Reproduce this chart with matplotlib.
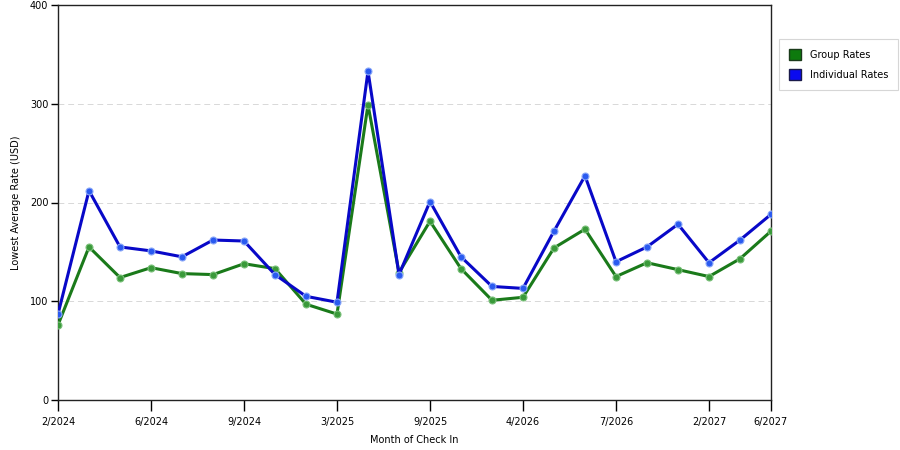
import numpy as np
import matplotlib
matplotlib.use("Agg")
import matplotlib.pyplot as plt
from matplotlib.patches import Patch

# month labels shown on the axis (blank = unlabeled point)
months = ["2/2024", "", "", "6/2024", "", "", "9/2024", "", "", "3/2025", "", "",
          "9/2025", "", "", "4/2026", "", "", "7/2026", "", "", "2/2027", "", "6/2027"]
group_rates = [76, 155, 124, 134, 128, 127, 138, 133, 97, 87, 299, 129,
               181, 133, 101, 104, 154, 173, 125, 139, 132, 125, 143, 171]
individual_rates = [87, 212, 155, 151, 145, 162, 161, 127, 105, 99, 333, 127,
                    201, 145, 115, 113, 171, 227, 140, 155, 178, 139, 162, 188]

plt.rcParams['font.family'] = ['DejaVu Sans']
plt.rcParams['font.size'] = 7

fig = plt.figure(figsize=(9, 4.5), dpi=100)
ax = fig.add_axes([58 / 900, 50 / 450, 713 / 900, 395 / 450])

x = np.arange(len(months))
ax.plot(x, group_rates, color='#1a7a1a', lw=2.2, marker='o', ms=5,
        mfc='#3a9a3a', mec='#7ac07a', mew=0.8, zorder=3)
ax.plot(x, individual_rates, color='#0808c8', lw=2.2, marker='o', ms=5,
        mfc='#2a5af0', mec='#8aa8f8', mew=0.8, zorder=4)

ax.set_xlim(0, len(months) - 1)
ax.set_ylim(0, 400)
tick_idx = [i for i, m in enumerate(months) if m]
ax.set_xticks(tick_idx)
ax.set_xticklabels([months[i] for i in tick_idx])
ax.set_yticks([0, 100, 200, 300, 400])
ax.tick_params(axis='x', length=8, width=1, pad=4)
ax.tick_params(axis='y', length=5, width=1, pad=2)
for s in ax.spines.values():
    s.set_color('#222222')
    s.set_linewidth(1)

for v in [100, 200, 300]:
    ax.axhline(v, color='#d8d8d8', lw=0.7, ls=(0, (6, 4)), zorder=1)

ax.set_xlabel("Month of Check In", labelpad=6)
ax.set_ylabel("Lowest Average Rate (USD)", labelpad=6)

handles = [Patch(facecolor='#0d7a0d', edgecolor='#1a3a1a', label='Group Rates'),
           Patch(facecolor='#0a0af0', edgecolor='#1a1a4a', label='Individual Rates')]
leg = fig.legend(handles=handles, loc='upper left', bbox_to_anchor=(779 / 900, 1 - 39 / 450),
                 borderaxespad=0, frameon=True, fancybox=False, edgecolor='#cccccc',
                 handlelength=1.3, handleheight=1.4, borderpad=1.0, labelspacing=0.9,
                 handletextpad=0.9)
leg.get_frame().set_linewidth(0.8)

fig.savefig("out.png", dpi=100)
